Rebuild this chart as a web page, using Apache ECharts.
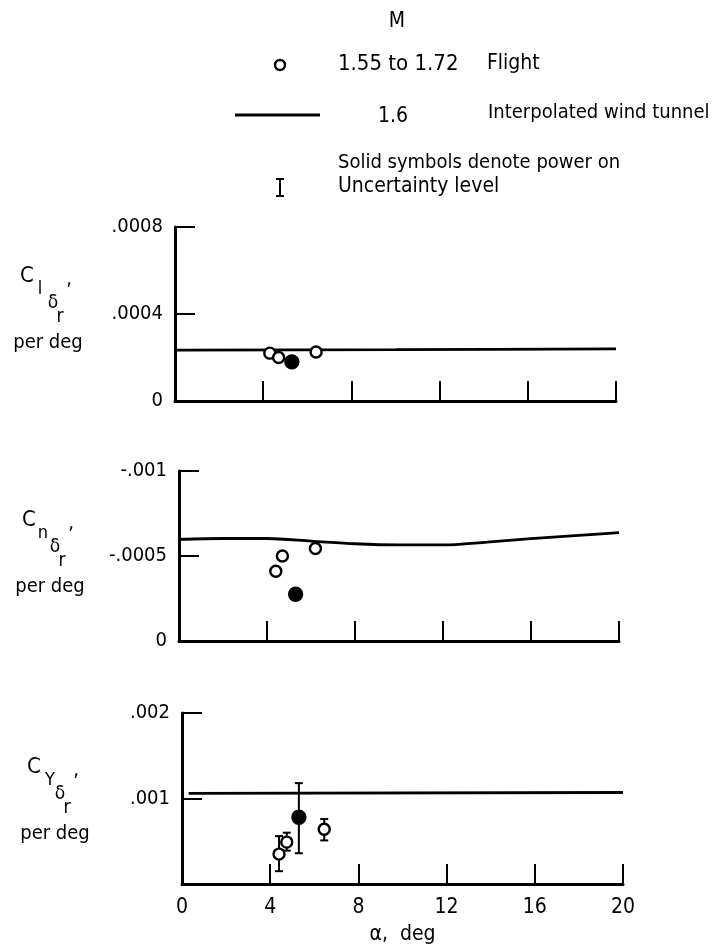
<!DOCTYPE html>
<html>
<head>
<meta charset="utf-8">
<script src="https://cdn.jsdelivr.net/npm/echarts@6/dist/echarts.min.js"></script>
<style>
  html, body { margin: 0; padding: 0; background: #fff; }
  #chart { width: 721px; height: 946px; }
</style>
</head>
<body>
<div id="chart"></div>
<script>
// angle of attack, deg
const alphaTicks = [0, 4, 8, 12, 16, 20];

// rolling moment, C_l delta_r
const rollWindAlpha = [0, 10, 20];
const rollWind = [0.000234, 0.000236, 0.00024];
const rollFlightAlpha = [4.3, 4.7, 6.4];
const rollFlight = [0.00022, 0.0002, 0.000225];
const rollPowerAlpha = [5.3];
const rollPower = [0.00018];

// yawing moment, C_n delta_r
const yawWindAlpha = [0, 2, 4, 6, 8, 10, 12, 14, 16, 18, 20];
const yawWind = [-0.000598, -0.000603, -0.000603, -0.000588, -0.000572, -0.000565, -0.000565, -0.000582, -0.000602, -0.00062, -0.000637];
const yawFlightAlpha = [4.4, 4.7, 6.2];
const yawFlight = [-0.00041, -0.0005, -0.000544];
const yawPowerAlpha = [5.3];
const yawPower = [-0.000275];

// side force, C_Y delta_r
const sideWindAlpha = [0.3, 20];
const sideWind = [0.00106, 0.00107];
const sideFlightAlpha = [4.4, 4.75, 6.45];
const sideFlight = [0.00035, 0.00049, 0.00064];
const sideFlightLow = [0.00015, 0.00039, 0.00051];
const sideFlightHigh = [0.00056, 0.0006, 0.00076];
const sidePowerAlpha = [5.3];
const sidePower = [0.00078];
const sidePowerLow = [0.00036];
const sidePowerHigh = [0.00118];

const INK = '#000';
const FONT = "'DejaVu Sans Condensed', sans-serif";

const pairs = (xs, ys) => xs.map((x, i) => [x, ys[i]]);
const fmt = v => (v === 0 ? '0' : String(+v.toPrecision(6)).replace('0.', '.'));

function xAxis(i, labels) {
  return {
    type: 'value', gridIndex: i, min: 0, max: 20, interval: 4,
    name: labels ? 'α,  deg' : '',
    nameLocation: 'middle', nameGap: 40,
    nameTextStyle: { color: INK, fontFamily: FONT, fontSize: 21 },
    axisLine: { show: true, onZero: false, lineStyle: { color: INK, width: 3 } },
    axisTick: { show: true, inside: true, length: 20, lineStyle: { color: INK, width: 2 } },
    axisLabel: {
      show: labels, color: INK, fontFamily: FONT, fontSize: 21, margin: 13,
      formatter: v => (alphaTicks.indexOf(v) >= 0 ? String(v) : '')
    },
    splitLine: { show: false }
  };
}

function yAxis(i, min, max, step, inverse, hideZero) {
  return {
    type: 'value', gridIndex: i, min: min, max: max, interval: step, inverse: inverse,
    axisLine: { show: true, lineStyle: { color: INK, width: 3 } },
    axisTick: { show: true, inside: true, length: 20, lineStyle: { color: INK, width: 2 } },
    axisLabel: {
      color: INK, fontFamily: FONT, fontSize: 20, margin: 12,
      formatter: v => (hideZero && v === 0 ? '' : fmt(v))
    },
    splitLine: { show: false }
  };
}

function windLine(i, xs, ys) {
  return {
    type: 'line', xAxisIndex: i, yAxisIndex: i, data: pairs(xs, ys),
    smooth: 0.3, symbol: 'none', lineStyle: { color: INK, width: 2.8 }, z: 2
  };
}

function points(i, xs, ys, solid) {
  return {
    type: 'scatter', xAxisIndex: i, yAxisIndex: i, data: pairs(xs, ys),
    symbol: 'circle', symbolSize: solid ? 13 : 11,
    itemStyle: { color: solid ? INK : '#fff', borderColor: INK, borderWidth: 2.4, opacity: 1 },
    z: 5
  };
}

function errorBars(i, xs, lo, hi) {
  return {
    type: 'custom', xAxisIndex: i, yAxisIndex: i,
    data: xs.map((x, k) => [x, lo[k], hi[k]]),
    renderItem(params, api) {
      const top = api.coord([api.value(0), api.value(2)]);
      const bot = api.coord([api.value(0), api.value(1)]);
      const w = 4;
      const st = { stroke: INK, lineWidth: 2 };
      return {
        type: 'group', children: [
          { type: 'line', shape: { x1: top[0], y1: top[1], x2: bot[0], y2: bot[1] }, style: st },
          { type: 'line', shape: { x1: top[0] - w, y1: top[1], x2: top[0] + w, y2: top[1] }, style: st },
          { type: 'line', shape: { x1: bot[0] - w, y1: bot[1], x2: bot[0] + w, y2: bot[1] }, style: st }
        ]
      };
    },
    z: 3
  };
}

function txt(x, y, s, size, align) {
  return {
    type: 'text', x: x, y: y,
    style: {
      text: s, fill: INK, fontFamily: FONT, fontSize: size,
      align: align || 'center', verticalAlign: 'middle'
    }
  };
}

// C with cascading subscripts, then "per deg"
function coefName(x, y, sub, subDx) {
  return [
    txt(x, y, 'C', 22),
    txt(x + subDx, y + 13, sub, 18),
    txt(x + 26, y + 27, 'δ', 19),
    txt(x + 33, y + 41, 'r', 19),
    txt(x + 42, y + 4, ',', 20),
    txt(x + 21, y + 67, 'per deg', 20)
  ];
}

const legend = [
  txt(397, 22, 'M', 21),
  { type: 'circle', shape: { cx: 280, cy: 65, r: 5 }, style: { fill: '#fff', stroke: INK, lineWidth: 2.5 } },
  txt(338, 64, '1.55 to 1.72', 22, 'left'),
  txt(487, 64, 'Flight', 21, 'left'),
  { type: 'line', shape: { x1: 235, y1: 115, x2: 320, y2: 115 }, style: { stroke: INK, lineWidth: 3 } },
  txt(378, 117, '1.6', 21, 'left'),
  txt(488, 113, 'Interpolated wind tunnel', 20, 'left'),
  txt(338, 163, 'Solid symbols denote power on', 20, 'left'),
  { type: 'line', shape: { x1: 280, y1: 179, x2: 280, y2: 196 }, style: { stroke: INK, lineWidth: 2 } },
  { type: 'line', shape: { x1: 276, y1: 179, x2: 284, y2: 179 }, style: { stroke: INK, lineWidth: 2 } },
  { type: 'line', shape: { x1: 276, y1: 196, x2: 284, y2: 196 }, style: { stroke: INK, lineWidth: 2 } },
  txt(338, 187, 'Uncertainty level', 21, 'left')
];

const chart = echarts.init(document.getElementById('chart'), null, { renderer: 'canvas' });
chart.setOption({
  backgroundColor: '#fff',
  animation: false,
  grid: [
    { left: 175, width: 441, top: 227, height: 174 },
    { left: 179, width: 440, top: 471, height: 170 },
    { left: 182, width: 441, top: 713, height: 173 }
  ],
  xAxis: [xAxis(0, false), xAxis(1, false), xAxis(2, true)],
  yAxis: [
    yAxis(0, 0, 0.0008, 0.0004, false, false),
    yAxis(1, -0.001, 0, 0.0005, true, false),
    yAxis(2, 0, 0.002, 0.001, false, true)
  ],
  graphic: legend
    .concat(coefName(27, 276, 'l', 13))
    .concat(coefName(29, 520, 'n', 14))
    .concat(coefName(34, 767, 'Y', 16)),
  series: [
    windLine(0, rollWindAlpha, rollWind),
    points(0, rollFlightAlpha, rollFlight, false),
    points(0, rollPowerAlpha, rollPower, true),

    windLine(1, yawWindAlpha, yawWind),
    points(1, yawFlightAlpha, yawFlight, false),
    points(1, yawPowerAlpha, yawPower, true),

    windLine(2, sideWindAlpha, sideWind),
    errorBars(2, sideFlightAlpha, sideFlightLow, sideFlightHigh),
    errorBars(2, sidePowerAlpha, sidePowerLow, sidePowerHigh),
    points(2, sideFlightAlpha, sideFlight, false),
    points(2, sidePowerAlpha, sidePower, true)
  ]
});
</script>
</body>
</html>
